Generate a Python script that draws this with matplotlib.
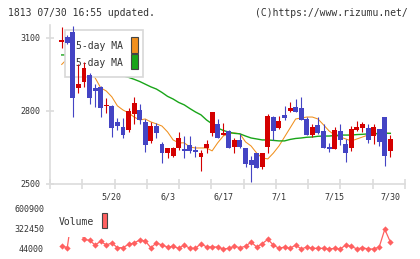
import numpy as np
import matplotlib
matplotlib.use('Agg')
import matplotlib.pyplot as pl
from matplotlib.patches import Rectangle

#--------------------------------------------------------------------------------------------
# daily prices (60 trading days, 5/7 .. 7/30)

open_ = [3082, 3105, 3126, 2893, 2918, 2948, 2895, 2899, 2821, 2821,
         2756, 2735, 2722, 2786, 2804, 2754, 2678, 2738, 2664, 2626,
         2616, 2647, 2644, 2660, 2640, 2612, 2647, 2711, 2747, 2701,
         2718, 2653, 2681, 2647, 2599, 2626, 2571, 2653, 2774, 2731,
         2784, 2800, 2815, 2811, 2767, 2701, 2742, 2718, 2652, 2644,
         2718, 2664, 2649, 2722, 2731, 2731, 2698, 2726, 2774, 2636]
high  = [3146, 3110, 3150, 2993, 3001, 2957, 2910, 2903, 2853, 2823,
         2772, 2772, 2812, 2859, 2829, 2767, 2756, 2750, 2674, 2648,
         2653, 2712, 2697, 2697, 2657, 2640, 2681, 2796, 2766, 2752,
         2722, 2688, 2704, 2649, 2615, 2629, 2629, 2786, 2780, 2780,
         2821, 2836, 2849, 2859, 2777, 2747, 2774, 2745, 2667, 2733,
         2747, 2685, 2738, 2759, 2756, 2747, 2747, 2727, 2775, 2701]
low   = [3060, 3076, 2775, 2875, 2899, 2829, 2815, 2775, 2792, 2693,
         2722, 2688, 2715, 2747, 2747, 2633, 2667, 2688, 2588, 2608,
         2612, 2640, 2608, 2629, 2612, 2555, 2626, 2698, 2689, 2700,
         2646, 2629, 2649, 2571, 2509, 2564, 2560, 2629, 2681, 2726,
         2763, 2795, 2795, 2763, 2700, 2694, 2705, 2648, 2633, 2643,
         2660, 2592, 2636, 2719, 2715, 2667, 2664, 2657, 2575, 2612]
close = [3092, 3078, 2853, 2910, 2978, 2855, 2882, 2811, 2825, 2729,
         2740, 2701, 2800, 2832, 2763, 2660, 2738, 2711, 2626, 2647,
         2649, 2688, 2637, 2636, 2633, 2629, 2664, 2795, 2690, 2711,
         2649, 2681, 2653, 2581, 2578, 2567, 2626, 2780, 2718, 2759,
         2770, 2811, 2797, 2763, 2701, 2733, 2711, 2649, 2644, 2722,
         2681, 2629, 2726, 2733, 2747, 2681, 2733, 2674, 2616, 2685]

# moving averages as drawn on the chart
ma5  = [2991, 3014, 3018, 3001, 2985, 2960, 2936, 2895, 2882, 2858,
        2821, 2804, 2792, 2775, 2763, 2767, 2755, 2747, 2738, 2714,
        2681, 2669, 2669, 2652, 2648, 2648, 2648, 2636, 2669, 2697,
        2706, 2710, 2706, 2673, 2656, 2627, 2607, 2603, 2627, 2656,
        2693, 2730, 2767, 2771, 2775, 2775, 2767, 2743, 2718, 2701,
        2693, 2685, 2677, 2685, 2693, 2701, 2706, 2710, 2710, 2708]
ma25 = [3030, 3030, 3026, 3022, 3014, 3006, 2997, 2985, 2973, 2960,
        2952, 2944, 2938, 2930, 2921, 2910, 2899, 2890, 2876, 2860,
        2849, 2835, 2825, 2810, 2796, 2784, 2763, 2747, 2730, 2720,
        2713, 2708, 2706, 2697, 2689, 2685, 2681, 2681, 2679, 2677,
        2677, 2683, 2687, 2689, 2692, 2693, 2696, 2697, 2697, 2699,
        2701, 2701, 2701, 2703, 2704, 2706, 2706, 2707, 2708, 2708]

volume = [85800, 62600, 600900, 350000, 178600, 164700, 99700, 150800, 99700, 127500,
          62600, 62600, 109000, 127500, 169300, 155400, 62600, 127500, 99700, 71800,
          81100, 53300, 99700, 53300, 53300, 118300, 71800, 71800, 71800, 44000,
          53300, 81100, 62600, 81100, 141500, 71800, 118300, 178600, 99700, 53300,
          71800, 53300, 99700, 44000, 71800, 53300, 53300, 53300, 44000, 53300,
          44000, 99700, 81100, 44000, 62600, 44000, 44000, 71800, 317800, 141500]

date_idx    = [9, 19, 29, 39, 49, 59]
date_labels = ['5/20', '6/3', '6/17', '7/1', '7/15', '7/30']
price_ticks = [2500, 2800, 3100]
vol_ticks   = [44000, 322450, 600900]

#--------------------------------------------------------------------------------------------

W, H = 420., 259.
def fx(px): return px / W
def fy(py): return 1. - py / H

red, blue = '#d40000', '#4444c4'
grey = '#dcdcdc'
mono = 'DejaVu Sans Mono'
txtc = '#333333'

fig = pl.figure(figsize=(4.2, 2.59), dpi=100)

ax = fig.add_axes([fx(50), fy(184), fx(405) - fx(50), (184 - 25) / H])
ax2 = fig.add_axes([fx(50), fy(253), fx(405) - fx(50), (253 - 205) / H])

xlim = (-2.10, 61.63)
ax.set_xlim(xlim)
ax.set_ylim(2500, 3153)

for s in ['top', 'right']:
    ax.spines[s].set_visible(False)
for s in ['left', 'bottom']:
    ax.spines[s].set_color(grey)
    ax.spines[s].set_linewidth(1.2)

ax.set_xticks(np.linspace(xlim[0], xlim[1], 12))
ax.set_xticklabels([])
ax.tick_params(axis='x', which='major', direction='inout', length=6.5, width=1.2, color=grey)
ax.set_xticks(date_idx, minor=True)
ax.set_xticklabels(date_labels, minor=True, fontsize=6, family=mono, color=txtc)
ax.tick_params(axis='x', which='minor', length=0, pad=6)

ax.set_yticks(price_ticks)
ax.set_yticklabels([str(p) for p in price_ticks], fontsize=6, family=mono, color=txtc)
ax.tick_params(axis='y', direction='inout', length=5.8, width=1.2, color=grey, pad=4)

#------------------
# candles
idx = np.arange(len(close))
o = np.array(open_, dtype=float); c = np.array(close, dtype=float)
cols = [red if cc >= oo else blue for oo, cc in zip(o, c)]
ax.vlines(idx, low, high, colors=cols, lw=0.8, zorder=5)
blo = np.minimum(o, c)
bh = np.maximum(np.abs(c - o), 4.)
ax.bar(idx, bh, bottom=blo, width=0.88, color=cols, lw=0, zorder=6)

ax.plot(idx, ma5, color='#f0901e', lw=0.75, zorder=2)
ax.plot(idx, ma25, color='#19a519', lw=1.0, zorder=2.1)

# legend (candles overlap it)
ax.add_patch(Rectangle((fx(65), fy(77)), fx(143) - fx(65), (77 - 30) / H, transform=fig.transFigure,
                       facecolor='white', edgecolor='#d8d8d8', lw=1.2, zorder=3))
ax.text(fx(123), fy(45.7), '5-day MA', transform=fig.transFigure, ha='right', va='center',
        fontsize=7, family=mono, color=txtc, zorder=4)
ax.text(fx(123), fy(63.3), '25-day MA', transform=fig.transFigure, ha='right', va='center',
        fontsize=7, family=mono, color=txtc, zorder=4)
ax.add_patch(Rectangle((fx(131.3), fy(52.7)), 6.4 / W, 15.4 / H, transform=fig.transFigure,
                       facecolor='#f0901e', edgecolor='#444444', lw=0.8, zorder=4))
ax.add_patch(Rectangle((fx(131.3), fy(69.3)), 6.4 / W, 15.4 / H, transform=fig.transFigure,
                       facecolor='#19a519', edgecolor='#444444', lw=0.8, zorder=4))

#------------------
# volume
ax2.set_xlim(xlim)
ax2.set_ylim(-11690, 656590)
for s in ax2.spines.values():
    s.set_visible(False)
ax2.set_xticks([])
ax2.set_yticks(vol_ticks)
ax2.set_yticklabels([str(v) for v in vol_ticks], fontsize=6, family=mono, color=txtc)
ax2.tick_params(axis='y', length=0, pad=4.3)

ax2.plot(idx, volume, color='#ff6060', lw=0.9, marker='D', ms=3.2, mew=0, zorder=2)

ax2.add_patch(Rectangle((fx(55), fy(237)), fx(112) - fx(55), (237 - 200) / H, transform=fig.transFigure,
                        facecolor='white', edgecolor='none', zorder=3, clip_on=False))
ax2.text(fx(59), fy(222.3), 'Volume', transform=fig.transFigure, ha='left', va='center',
         fontsize=7, family=mono, color=txtc, zorder=4)
ax2.add_patch(Rectangle((fx(101.7), fy(228.3)), 5.6 / W, 15 / H, transform=fig.transFigure,
                        facecolor='#ff6060', edgecolor='#444444', lw=0.8, zorder=4))

#------------------
fig.text(fx(8), fy(12.7), '1813 07/30 16:55 updated.', fontsize=7, family=mono, color=txtc,
         ha='left', va='center')
fig.text(fx(408), fy(12.7), '(C)https://www.rizumu.net/', fontsize=7, family=mono, color=txtc,
         ha='right', va='center')

fig.savefig('out.png', dpi=100)
